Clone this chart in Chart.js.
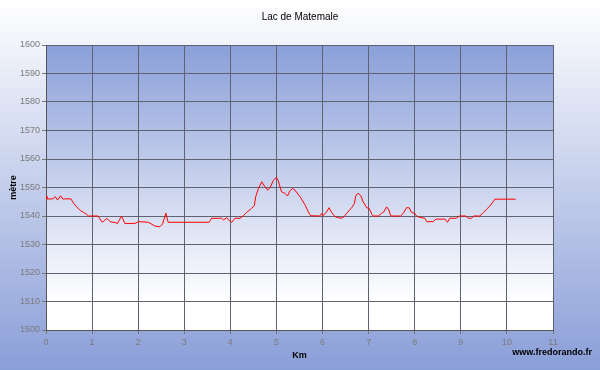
<!DOCTYPE html>
<html>
<head>
<meta charset="utf-8">
<script src="https://cdn.jsdelivr.net/npm/chart.js@4"></script>
<style>
  html, body { margin: 0; padding: 0; background: #fff; }
  #wrap { width: 600px; height: 370px; }
</style>
</head>
<body>
<div id="wrap"><canvas id="profile" width="600" height="370"></canvas></div>
<script>
// Distance (km) and altitude (m)
const KM = [
  0.00, 0.02, 0.15, 0.20, 0.25, 0.32, 0.36, 0.54, 0.60, 0.66, 0.74, 0.81, 0.88, 0.92,
  1.13, 1.21, 1.24, 1.32, 1.39, 1.50, 1.55, 1.64, 1.71, 1.93, 1.98,
  2.04, 2.22, 2.36, 2.47, 2.53, 2.60, 2.65, 3.54, 3.59, 3.81, 3.85, 3.92, 3.99,
  4.03, 4.10, 4.21, 4.28, 4.35, 4.46, 4.52, 4.55, 4.61, 4.68, 4.74, 4.81, 4.86, 4.93,
  5.00, 5.04, 5.11, 5.18, 5.24, 5.29, 5.35, 5.40, 5.51, 5.62, 5.69, 5.74, 5.94, 5.98,
  6.01, 6.09, 6.14, 6.20, 6.27, 6.34, 6.41, 6.47, 6.52, 6.63, 6.69, 6.72, 6.77, 6.83, 6.88, 6.96,
  7.01, 7.07, 7.10, 7.21, 7.28, 7.33, 7.39, 7.44, 7.48, 7.69, 7.75, 7.82, 7.88, 7.93,
  8.00, 8.04, 8.11, 8.22, 8.26, 8.40, 8.46, 8.66, 8.71, 8.76, 8.90, 8.97,
  9.11, 9.16, 9.23, 9.28, 9.41, 9.49, 9.56, 9.63, 9.74, 10.19
];
const ALT = [
  1547, 1546, 1546, 1546.8, 1545.6, 1547.1, 1546, 1546, 1544.5, 1543.3, 1542, 1541.3, 1540.6, 1540,
  1540, 1538, 1538, 1539.2, 1538, 1537.7, 1537.4, 1540, 1537.4, 1537.4, 1537.8,
  1538, 1537.8, 1536.5, 1536.2, 1537.2, 1541, 1537.8, 1537.8, 1539.2, 1539.2, 1538.6, 1539.4, 1538.2,
  1537.8, 1539.2, 1539.2, 1540.1, 1541.2, 1542.7, 1543.6, 1546.8, 1549.7, 1552, 1550.5, 1549.1, 1549.9, 1552.4,
  1553.6, 1552.3, 1548.5, 1548, 1547, 1548.8, 1549.7, 1549.1, 1546.8, 1543.9, 1541.5, 1540.1, 1540, 1540.9,
  1540.1, 1541.5, 1542.9, 1541.2, 1539.8, 1539.4, 1539.2, 1539.8, 1540.9, 1542.9, 1544.4, 1547, 1548, 1547.1, 1545, 1542.9,
  1542.7, 1540.6, 1540, 1540, 1540.9, 1541.5, 1543.2, 1542.1, 1540, 1540, 1540.9, 1542.9, 1542.9, 1541.3,
  1540.9, 1540, 1539.5, 1539.2, 1538, 1538, 1538.9, 1538.9, 1537.8, 1539.2, 1539.2, 1540,
  1540, 1539.2, 1539.2, 1540, 1540, 1541.2, 1542.4, 1543.5, 1545.9, 1545.9
];

const TITLE = 'Lac de Matemale';
const X_TITLE = 'Km';
const Y_TITLE = 'mètre';
const CREDIT = 'www.fredorando.fr';

const GRID = '#5f6270';
const TICKS = '#7a7a7a';
const FONT = 'Arial, "Liberation Sans", sans-serif';

// ── Backgrounds, title and credit text ────────────────────────────
const backdrop = {
  id: 'backdrop',
  beforeDraw(chart) {
    const { ctx, width, height, chartArea: a } = chart;
    ctx.save();
    let g = ctx.createLinearGradient(0, 0, 0, height);
    g.addColorStop(0, '#ffffff');
    g.addColorStop(1, '#8a9ed8');
    ctx.fillStyle = g;
    ctx.fillRect(0, 0, width, height);

    g = ctx.createLinearGradient(0, a.top, 0, a.bottom);
    g.addColorStop(0, '#8a9fd9');
    g.addColorStop(0.9, '#ffffff');
    g.addColorStop(1, '#ffffff');
    ctx.fillStyle = g;
    ctx.fillRect(a.left, a.top, a.right - a.left, a.bottom - a.top);
    ctx.restore();
  },
  afterDraw(chart) {
    const { ctx } = chart;
    ctx.save();
    ctx.fillStyle = '#000';
    ctx.textBaseline = 'middle';
    ctx.font = '10px ' + FONT;
    ctx.textAlign = 'center';
    ctx.fillText(TITLE, 300, 17);
    ctx.font = 'bold 9px ' + FONT;
    ctx.textAlign = 'right';
    ctx.fillText(CREDIT, 592, 353);
    ctx.restore();
  }
};

new Chart(document.getElementById('profile'), {
  type: 'line',
  data: {
    datasets: [{
      data: KM.map((k, i) => ({ x: k, y: ALT[i] })),
      borderColor: '#ff0000',
      borderWidth: 1,
      pointRadius: 0,
      tension: 0,
      fill: false
    }]
  },
  options: {
    responsive: false,
    animation: false,
    layout: { padding: { left: 0, right: 47, top: 45, bottom: 0 } },
    plugins: {
      legend: { display: false },
      tooltip: { enabled: false },
      title: { display: false }
    },
    scales: {
      x: {
        type: 'linear',
        min: 0, max: 11,
        afterFit: s => { s.height = 40; },
        ticks: { stepSize: 1, color: TICKS, font: { family: FONT, size: 9 }, padding: 3, maxRotation: 0, callback: v => String(v) },
        grid: { color: GRID, tickLength: 4, tickColor: '#777' },
        border: { color: '#555' },
        title: { display: true, text: X_TITLE, color: '#000', font: { family: FONT, size: 9, weight: 'bold', lineHeight: 1.2 }, padding: { top: 0, bottom: 8.6 } }
      },
      y: {
        min: 1500, max: 1600,
        afterFit: s => { s.width = 46; },
        ticks: { stepSize: 10, color: TICKS, font: { family: FONT, size: 9 }, padding: 2, callback: v => String(v) },
        grid: { color: GRID, tickLength: 4, tickColor: '#777' },
        border: { color: '#555' },
        title: { display: true, text: Y_TITLE, color: '#000', font: { family: FONT, size: 9, weight: 'bold', lineHeight: 1.2 }, padding: { top: 8.6, bottom: 0 } }
      }
    }
  },
  plugins: [backdrop]
});
</script>
</body>
</html>
